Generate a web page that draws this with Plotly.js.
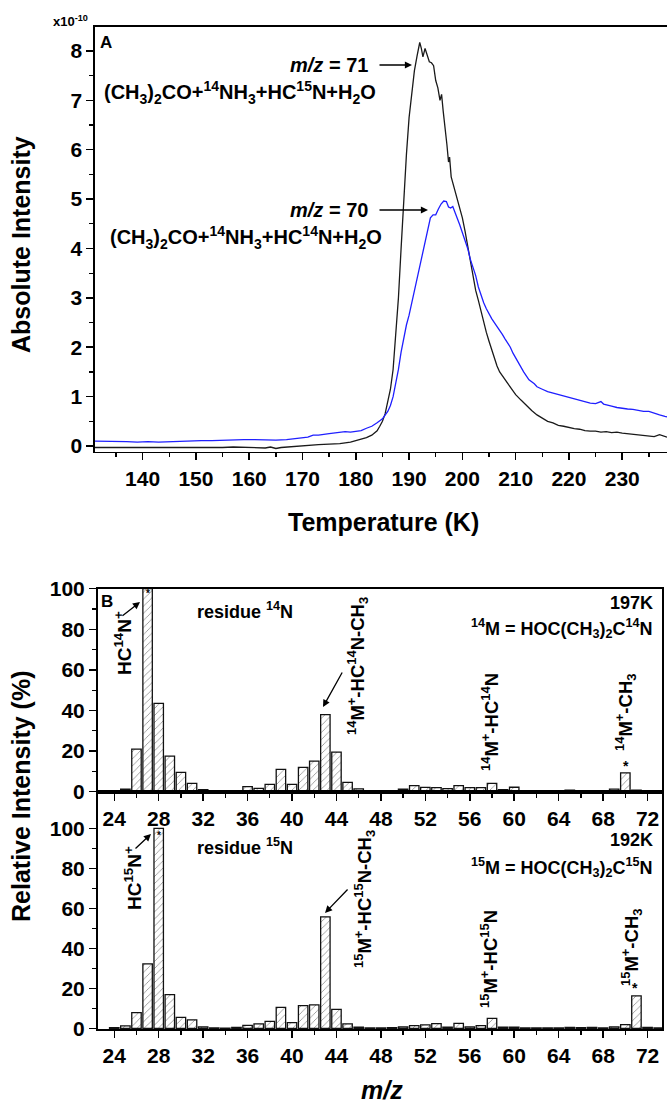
<!DOCTYPE html>
<html><head><meta charset="utf-8">
<script src="https://cdn.plot.ly/plotly-3.0.1.min.js"></script>
<style>html,body{margin:0;padding:0;background:#fff}#chart{width:667px;height:1104px}</style>
</head><body><div id="chart"></div>
<script>
// ---------- Panel A data (intensity in units of 1e-10) ----------
const tempK71 = [131,133,135,137,139,141,143,145,147,149,151,153,155,157,159,161,163,164,165,166,167,169,171,173,175,177,179,180,181,182,183,184,184.5,185,185.5,186,186.5,187,187.5,188,188.5,189,189.5,190,190.5,191,191.5,192,192.3,192.6,193,193.4,193.8,194.2,194.6,195,195.4,195.8,196.1,196.4,196.8,197.1,197.4,197.6,197.9,198.3,198.7,199,199.5,200,200.5,201,201.5,202,202.5,203,203.5,204,204.5,205,205.5,206,206.5,207,207.5,208,208.5,209,209.5,210,211,212,213,214,215,216,217,218,219,220,221,222,223,224,225,226,227,228,229,230,231,232,233,234,235,236,237,238,238.4];
const int71 = [-0.03,-0.03,-0.04,-0.03,-0.04,-0.03,-0.03,-0.04,-0.03,-0.03,-0.04,-0.03,-0.03,-0.02,-0.03,-0.03,-0.04,-0.02,-0.05,-0.03,-0.02,0.0,0.01,0.03,0.04,0.05,0.08,0.11,0.14,0.17,0.22,0.31,0.4,0.5,0.65,0.88,1.15,1.55,2.2,3.0,4.0,5.0,5.9,6.65,7.1,7.6,7.9,8.17,8.05,7.88,8.05,7.92,7.78,7.76,7.7,7.4,7.25,7.0,7.12,6.78,6.45,6.1,5.75,5.85,5.45,5.3,5.1,5.0,4.8,4.62,4.35,4.05,3.7,3.4,3.15,2.95,2.72,2.5,2.3,2.12,1.95,1.78,1.62,1.5,1.42,1.35,1.26,1.18,1.1,1.04,0.93,0.82,0.72,0.63,0.56,0.5,0.47,0.42,0.4,0.37,0.35,0.34,0.31,0.3,0.3,0.28,0.29,0.27,0.28,0.26,0.25,0.23,0.22,0.21,0.2,0.19,0.23,0.2,0.18];
const tempK70 = [131,133,135,137,139,141,143,145,147,149,151,153,155,157,159,161,163,165,167,169,171,172,173,175,177,178,179,180,181,182,183,184,185,186,186.5,187,187.5,188,188.5,189,189.5,190,190.5,191,191.5,192,192.5,193,193.5,194,194.5,195,195.5,196,196.5,197,197.4,197.8,198.2,198.6,199,199.5,200,200.5,201,201.5,202,202.5,203,203.5,204,204.5,205,205.5,206,206.5,207,207.5,208,208.5,209,209.5,210,210.5,211,211.5,212,212.5,213,213.5,214,214.5,215,216,217,218,219,220,221,222,223,224,225,226,226.5,227,228,229,230,231,232,233,234,235,236,237,238,238.4];
const int70 = [0.1,0.1,0.09,0.09,0.08,0.09,0.08,0.09,0.1,0.1,0.11,0.11,0.12,0.12,0.13,0.13,0.12,0.12,0.13,0.15,0.18,0.22,0.22,0.25,0.27,0.29,0.28,0.29,0.31,0.36,0.4,0.47,0.55,0.7,0.82,1.0,1.25,1.55,1.9,2.2,2.45,2.65,2.9,3.15,3.4,3.65,3.9,4.1,4.4,4.62,4.68,4.68,4.8,4.9,4.96,4.95,4.84,4.82,4.85,4.72,4.62,4.48,4.33,4.18,4.0,3.78,3.62,3.45,3.22,3.05,2.9,2.78,2.67,2.58,2.5,2.42,2.36,2.26,2.17,2.08,2.0,1.88,1.78,1.67,1.58,1.5,1.42,1.34,1.3,1.26,1.2,1.17,1.15,1.1,1.07,1.05,1.01,0.98,0.95,0.92,0.89,0.87,0.86,0.9,0.85,0.84,0.81,0.78,0.76,0.75,0.74,0.72,0.7,0.7,0.66,0.63,0.6,0.59];

// ---------- Panel B data ----------
const mzValues = [24,25,26,27,28,29,30,31,32,33,34,35,36,37,38,39,40,41,42,43,44,45,46,47,48,49,50,51,52,53,54,55,56,57,58,59,60,61,62,63,64,65,66,67,68,69,70,71,72,73];
const rel14N = [0.3,1.2,21.0,100,43.5,17.5,9.5,4.1,1.0,0.2,0.1,0.5,2.5,1.6,3.6,11.0,3.6,12.0,15.1,38.0,19.5,4.6,1.4,0.3,0.2,0.3,1.2,3.0,2.1,2.0,1.5,3.0,2.0,2.0,4.1,1.0,2.2,0.3,0.2,0.3,0.3,0.8,0.4,0.5,0.5,1.3,9.3,0.7,0.2,0.3];
const rel15N = [0.3,1.2,7.8,32.2,100,16.8,5.5,4.2,0.7,0.2,0.1,0.5,1.5,2.2,3.5,10.5,2.8,11.3,11.7,55.7,9.5,2.2,0.6,0.2,0.2,0.3,0.7,1.3,1.7,2.3,0.6,2.5,0.7,1.3,5.0,0.6,0.6,0.2,0.2,0.2,0.2,0.5,0.3,0.4,0.2,0.7,1.8,16.2,0.5,0.2];
const tempTicks = [140,150,160,170,180,190,200,210,220,230];
const intTicks = [0,1,2,3,4,5,6,7,8];

const W = 667, H = 1104;
const FF = 'Liberation Sans, Arial, sans-serif';
const P = (x, y) => ({x: x / W, y: 1 - y / H});

const barStyle = {
  color: 'white',
  line: {color: '#111', width: 1.3},
  pattern: {shape: '/', fgcolor: '#666', bgcolor: 'white', size: 5, solidity: 0.12}
};

const traces = [
  {x: tempK71, y: int71, type: 'scatter', mode: 'lines', line: {color: '#1a1a1a', width: 1.3}, xaxis: 'x', yaxis: 'y', hoverinfo: 'skip'},
  {x: tempK70, y: int70, type: 'scatter', mode: 'lines', line: {color: '#1f1fff', width: 1.3}, xaxis: 'x', yaxis: 'y', hoverinfo: 'skip'},
  {x: mzValues, y: rel14N, type: 'bar', width: 0.85, marker: barStyle, xaxis: 'x2', yaxis: 'y2'},
  {x: mzValues, y: rel15N, type: 'bar', width: 0.85, marker: barStyle, xaxis: 'x3', yaxis: 'y3'}
];

const tickFont = {family: FF, size: 21, color: '#000', weight: 'bold'};
const axBase = {
  showline: true, linecolor: '#000', linewidth: 1.6, mirror: true,
  ticks: 'outside', ticklen: 7, tickwidth: 1.5, tickcolor: '#000',
  showgrid: false, zeroline: false, tickfont: tickFont, fixedrange: true
};
const minorT = (d) => ({dtick: d, ticks: 'outside', ticklen: 4, tickwidth: 1.3, tickcolor: '#000', showgrid: false});

const layout = {
  width: W, height: H,
  margin: {l: 0, r: 0, t: 0, b: 0},
  paper_bgcolor: '#fff', plot_bgcolor: '#fff',
  showlegend: false, bargap: 0,
  xaxis: Object.assign({}, axBase, {domain: [95 / W, 1], range: [131.06, 238.4], tickvals: tempTicks, anchor: 'y', minor: minorT(5)}),
  yaxis: Object.assign({}, axBase, {domain: [1 - 451.7 / H, 1 - 26.7 / H], range: [-0.115, 8.49], tickvals: intTicks, anchor: 'x', minor: minorT(0.5)}),
  xaxis2: Object.assign({}, axBase, {domain: [97.6 / W, 662 / W], range: [22.5, 73.3], tick0: 24, dtick: 4, anchor: 'y2', minor: minorT(2)}),
  yaxis2: Object.assign({}, axBase, {domain: [1 - 792 / H, 1 - 588.5 / H], range: [-0.15, 100.1], tick0: 0, dtick: 20, anchor: 'x2', minor: minorT(10)}),
  xaxis3: Object.assign({}, axBase, {domain: [97.6 / W, 662 / W], range: [22.5, 73.3], tick0: 24, dtick: 4, anchor: 'y3', minor: minorT(2)}),
  yaxis3: Object.assign({}, axBase, {domain: [1 - 1029.3 / H, 1 - 792 / H], range: [-0.5, 118.15], tickvals: [0,20,40,60,80,100], anchor: 'x3', minor: {tickvals: [10,30,50,70,90], ticks: 'outside', ticklen: 4, tickwidth: 1.3, tickcolor: '#000'}}),
  annotations: []
};

function txt(x, y, text, size, opts) {
  const p = P(x, y);
  layout.annotations.push(Object.assign({
    xref: 'paper', yref: 'paper', x: p.x, y: p.y, text: text, showarrow: false,
    font: {family: FF, size: size, color: '#000', weight: 'bold'},
    xanchor: 'center', yanchor: 'middle'
  }, opts || {}));
}
function arrow(tx, ty, hx, hy) {
  const p = P(hx, hy);
  layout.annotations.push({
    xref: 'paper', yref: 'paper', x: p.x, y: p.y, text: '', showarrow: true,
    axref: 'pixel', ayref: 'pixel', ax: tx - hx, ay: ty - hy,
    arrowhead: 2, arrowsize: 1.1, arrowwidth: 1.3, arrowcolor: '#000', standoff: 0
  });
}

// Panel A texts
txt(70, 21, 'x10<sup>-10</sup>', 13);
txt(106, 42, 'A', 17);
txt(370, 65, '<i>m/z</i> = 71', 20, {xanchor: 'right'});
arrow(378, 65, 412, 65);
txt(102, 93, '(CH<sub>3</sub>)<sub>2</sub>CO+<sup>14</sup>NH<sub>3</sub>+HC<sup>15</sup>N+H<sub>2</sub>O', 20, {xanchor: 'left'});
txt(370, 210, '<i>m/z</i> = 70', 20, {xanchor: 'right'});
arrow(378, 210, 428, 210);
txt(108, 238, '(CH<sub>3</sub>)<sub>2</sub>CO+<sup>14</sup>NH<sub>3</sub>+HC<sup>14</sup>N+H<sub>2</sub>O', 20, {xanchor: 'left'});
txt(21, 245, 'Absolute Intensity', 25, {textangle: -90});
txt(383, 522, 'Temperature (K)', 25);

// Panel B upper
txt(107, 601, 'B', 17);
txt(123, 643, 'HC<sup>14</sup>N<sup>+</sup>', 19, {textangle: -90});
arrow(121, 617, 140, 602);
txt(147.5, 594, '*', 10);
txt(195, 610, 'residue <sup>14</sup>N', 18, {xanchor: 'left'});
txt(655, 603, '197K', 18, {xanchor: 'right'});
txt(655, 628, '<sup>14</sup>M = HOC(CH<sub>3</sub>)<sub>2</sub>C<sup>14</sup>N', 18, {xanchor: 'right'});
txt(357, 666, '<sup>14</sup>M<sup>+</sup>-HC<sup>14</sup>N-CH<sub>3</sub>', 18.5, {textangle: -90});
arrow(343, 671, 323, 707);
txt(490, 722, '<sup>14</sup>M<sup>+</sup>-HC<sup>14</sup>N', 18.5, {textangle: -90});
txt(625, 713, '<sup>14</sup>M<sup>+</sup>-CH<sub>3</sub>', 18.5, {textangle: -90});
txt(626, 766, '*', 14);

// Panel B lower
txt(133, 878, 'HC<sup>15</sup>N<sup>+</sup>', 19, {textangle: -90});
arrow(134, 850, 151, 834);
txt(158.6, 835, '*', 10);
txt(195, 846, 'residue <sup>15</sup>N', 18, {xanchor: 'left'});
txt(655, 840, '192K', 18, {xanchor: 'right'});
txt(655, 867, '<sup>15</sup>M = HOC(CH<sub>3</sub>)<sub>2</sub>C<sup>15</sup>N', 18, {xanchor: 'right'});
txt(364, 899, '<sup>15</sup>M<sup>+</sup>-HC<sup>15</sup>N-CH<sub>3</sub>', 18.5, {textangle: -90});
arrow(349, 888, 325, 913);
txt(489, 959, '<sup>15</sup>M<sup>+</sup>-HC<sup>15</sup>N', 18.5, {textangle: -90});
txt(631, 948, '<sup>15</sup>M<sup>+</sup>-CH<sub>3</sub>', 18.5, {textangle: -90});
txt(635, 988, '*', 14);
txt(21, 797, 'Relative Intensity (%)', 25, {textangle: -90});
txt(382, 1090, '<i>m/z</i>', 25);

Plotly.newPlot('chart', traces, layout, {displayModeBar: false, staticPlot: true});
</script></body></html>
